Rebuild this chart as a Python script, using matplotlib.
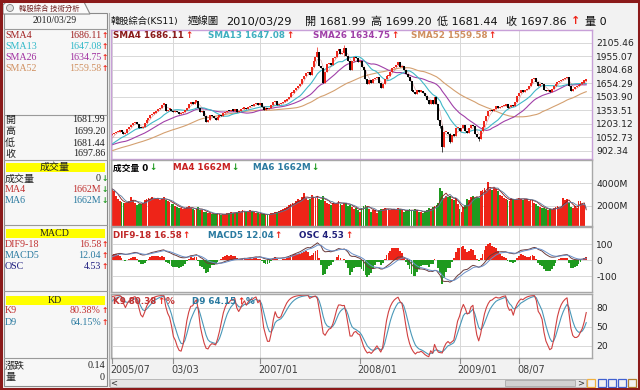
import numpy as np
import pandas as pd
import matplotlib
matplotlib.use("Agg")
import matplotlib.pyplot as plt
from matplotlib.patches import Rectangle, Circle, Polygon

W, H = 640, 390
CJK = ["DejaVu Sans", "Noto Sans CJK TC"]
SERIF = ["Liberation Serif", "Noto Sans CJK TC", "DejaVu Sans"]

# weekly closes before the first drawn week (only used to warm up the indicators)
warmup_close = [740, 745, 730, 720, 750, 780, 800, 810, 830, 840, 830, 845, 850,
                860, 850, 840, 830, 850, 870, 860, 880, 870, 880, 885, 895, 900,
                920, 910, 930, 950, 960, 990, 1000, 990, 970, 960, 950, 945, 960,
                950, 920, 910, 940, 930, 940, 950, 960, 980, 1000, 1010, 1020, 1050]

# weekly closes 2005/07/04 .. 2010/03/29
close = [1085, 1100, 1110, 1115, 1125, 1115, 1090, 1100, 1140, 1170, 1190, 1210, 1220,
         1200, 1160, 1150, 1170, 1210, 1240, 1270, 1300, 1315, 1320, 1350, 1365, 1379,
         1415, 1420, 1340, 1360, 1370, 1345, 1330, 1345, 1330, 1310, 1320, 1335, 1355,
         1380, 1420, 1440, 1420, 1450, 1460, 1380, 1330, 1340, 1290, 1220, 1250, 1295,
         1290, 1270, 1250, 1280, 1300, 1290, 1320, 1330, 1350, 1340, 1360, 1350, 1370,
         1330, 1340, 1365, 1370, 1380, 1365, 1390, 1400, 1395, 1420, 1430, 1410, 1434,
         1390, 1360, 1370, 1365, 1380, 1410, 1440, 1460, 1410, 1420, 1430, 1450, 1455,
         1480, 1500, 1540, 1550, 1580, 1600, 1620, 1650, 1700, 1740, 1770, 1780, 1743,
         1830, 1900, 1950, 2000, 1850, 1820, 1660, 1780, 1870, 1880, 1860, 1930, 1950,
         2010, 2040, 1980, 1990, 2050, 1960, 1900, 1800, 1900, 1950, 1930, 1890, 1897,
         1830, 1800, 1700, 1650, 1690, 1660, 1700, 1710, 1720, 1660, 1600, 1640, 1700,
         1730, 1740, 1780, 1820, 1830, 1860, 1888, 1830, 1850, 1800, 1760, 1720, 1680,
         1570, 1560, 1530, 1580, 1560, 1570, 1540, 1510, 1470, 1420, 1470, 1420, 1500,
         1420, 1240, 1180, 940, 1110, 1110, 1090, 1000, 1080, 1070, 1150, 1160, 1120,
         1160, 1190, 1120, 1100, 1160, 1190, 1180, 1090, 1060, 1030, 1120, 1170, 1230,
         1290, 1340, 1360, 1340, 1370, 1400, 1380, 1390, 1400, 1400, 1420, 1380, 1390,
         1410, 1400, 1440, 1510, 1550, 1580, 1560, 1580, 1590, 1620, 1660, 1700, 1710,
         1670, 1620, 1650, 1640, 1580, 1570, 1580, 1560, 1590, 1620, 1640, 1670, 1680,
         1690, 1700, 1710, 1720, 1620, 1570, 1590, 1610, 1620, 1630, 1650, 1660, 1690,
         1697.86]
first_open = 1075.0
last_open = 1681.99
# weeks with long shadows: index -> (high, low)
long_wicks = {107: (2060, 1950), 121: (2085, 1960), 171: (1250, 1150),
              172: (1190, 892), 176: (1100, 985), 191: (1070, 1015)}

volume = [3500, 3300, 2900, 2600, 2450, 2350, 2300, 2250, 2300, 2400, 2800, 2500, 2250,
          2100, 2200, 2150, 2300, 2500, 2650, 2700, 2600, 2750, 2650, 2600, 2700, 2500,
          2650, 2750, 2500, 2400, 2350, 2200, 2150, 2000, 1900, 1850, 1800, 1750, 1700,
          1900, 2000, 1800, 1700, 1650, 1750, 1900, 1600, 1650, 1500, 1450, 1400, 1350,
          1300, 1250, 1300, 1350, 1300, 1200, 1250, 1300, 1350, 1400, 1450, 1350, 1400,
          1500, 1550, 1450, 1600, 1550, 1450, 1500, 1600, 1550, 1450, 1400, 1350, 1250,
          1300, 1250, 1200, 1250, 1300, 1350, 1400, 1500, 1450, 1550, 1600, 1700, 1800,
          1900, 2100, 2200, 2300, 2200, 2400, 2600, 2500, 2800, 3100, 2700, 2500, 2600,
          3000, 2800, 2700, 2900, 2600, 2500, 2900, 2400, 2300, 2200, 2100, 2300, 2200,
          2300, 2400, 2200, 2100, 2250, 2300, 2000, 2100, 1900, 1750, 1800, 1650, 1500,
          1850, 2000, 2100, 1900, 1700, 1500, 1650, 1600, 1400, 1600, 1750, 1700, 1800,
          1750, 1700, 1650, 1700, 1750, 1650, 1800, 1700, 1650, 1500, 1550, 1650, 1700,
          1600, 1550, 1700, 1650, 1500, 1450, 1400, 1550, 1650, 1800, 1700, 1900, 2000,
          2100, 2300, 3600, 3300, 2700, 2900, 2750, 2850, 2600, 2500, 2700, 2200, 1700,
          1500, 1900, 2100, 2600, 2500, 2800, 2900, 2700, 2800, 2700, 3300, 3400, 3600,
          3300, 4100, 3500, 3400, 3600, 3500, 3300, 3000, 2900, 2700, 2600, 2500, 2450,
          2700, 2600, 2500, 2650, 2700, 2600, 2550, 2650, 2600, 2400, 2500, 2550, 2300,
          2200, 2000, 1900, 1800, 1850, 1700, 1650, 1750, 1600, 1800, 1900, 2000, 1850,
          1900, 2700, 2500, 2600, 2300, 1900, 1800, 2000, 1850, 2400, 2400, 2200, 2050,
          0]

grid_weeks = [0, 32, 77, 129, 181, 212]
date_labels = ["2005/07", "03/03", "2007/01", "2008/01", "2009/01", "08/07"]
price_ticks = [2105.46, 1955.07, 1804.68, 1654.29, 1503.90, 1353.51, 1203.12, 1052.73, 902.34]
vol_ticks = [2000, 4000]
macd_ticks = [100, 0, -100]
kd_ticks = [80, 50, 20]

# ---- indicators
n_warm = len(warmup_close)
full = pd.Series(warmup_close + close, dtype=float)
c = pd.Series(close, dtype=float)
o = c.shift(1)
o.iloc[0] = first_open
o.iloc[-1] = last_open
hi = np.maximum(o, c).values.copy()
lo = np.minimum(o, c).values.copy()
for k, (h, l) in long_wicks.items():
    hi[k], lo[k] = h, l

sma = {n: full.rolling(n, min_periods=1).mean().iloc[n_warm:].values for n in (4, 13, 26, 52)}
ema9 = full.ewm(span=9, adjust=False).mean()
ema18 = full.ewm(span=18, adjust=False).mean()
dif_full = ema9 - ema18
macd_full = dif_full.ewm(span=5, adjust=False).mean()
dif = dif_full.iloc[n_warm:].values
macd = macd_full.iloc[n_warm:].values
osc = dif - macd
osc_bar = osc / np.abs(osc).max() * 145

full_hi = np.concatenate([full.values[:n_warm], hi])
full_lo = np.concatenate([full.values[:n_warm], lo])
h9 = pd.Series(full_hi).rolling(9, min_periods=1).max().values
l9 = pd.Series(full_lo).rolling(9, min_periods=1).min().values
rsv = np.where(h9 > l9, (full.values - l9) / np.maximum(h9 - l9, 1e-9) * 100, 50)
kk, dd = [], []
k_prev, d_prev = 50.0, 50.0
for r in rsv:
    k_prev = k_prev * 2 / 3 + r / 3
    d_prev = d_prev * 2 / 3 + k_prev / 3
    kk.append(k_prev)
    dd.append(d_prev)
k9 = np.array(kk)[n_warm:]
d9 = np.array(dd)[n_warm:]

vol = pd.Series(volume, dtype=float)
vma4 = vol.rolling(4, min_periods=1).mean()
vma6 = vol.rolling(6, min_periods=1).mean()

x = np.arange(len(close))
up = (c >= o).values
RED, GREEN = "#ee2418", "#1f9a1f"

# ---- figure
fig = plt.figure(figsize=(W / 100, H / 100), dpi=100, facecolor="#f2f2f2")


def box(x0, y0, x1, y1):
    return fig.add_axes([x0 / W, 1 - y1 / H, (x1 - x0) / W, (y1 - y0) / H])


def style(ax, ticks, labels, ylim, edge="#a8a8a8"):
    ax.set_facecolor("white")
    ax.set_xlim(-0.5, 250)
    ax.set_ylim(*ylim)
    ax.set_yticks(ticks)
    ax.set_yticklabels(labels, fontsize=6.6, color="#202020")
    ax.yaxis.tick_right()
    ax.tick_params(axis="y", length=0, pad=3)
    ax.set_xticks(grid_weeks)
    ax.tick_params(axis="x", length=0, labelbottom=False)
    ax.grid(True, color="#d8d8d8", lw=0.7)
    ax.set_axisbelow(True)
    for s in ax.spines.values():
        s.set_color(edge)
        s.set_linewidth(1.0)


# price panel
ax1 = box(111, 30, 592, 159)
style(ax1, price_ticks, [f"{v:.2f}" for v in price_ticks], (810, 2247), edge="#c8a0d8")
ax1.plot(x, sma[52], color="#d4a070", lw=0.8)
ax1.plot(x, sma[26], color="#a040a8", lw=0.8)
ax1.plot(x, sma[13], color="#40b8c8", lw=0.8)
ax1.plot(x, sma[4], color="#c05050", lw=0.4, alpha=0.6)
body_lo = np.minimum(o, c).values
body_hi = np.maximum(np.maximum(o, c).values, body_lo + 14)
for m, col in ((up, RED), (~up, "black")):
    ax1.vlines(x[m], lo[m], hi[m], color=col, lw=0.5)
    ax1.vlines(x[m], body_lo[m], body_hi[m], color=col, lw=1.4)

# volume panel
ax2 = box(111, 160, 592, 226)
style(ax2, vol_ticks, [f"{v}M" for v in vol_ticks], (240, 6030))
ax2.bar(x, volume, width=0.95, color=np.where(up, RED, GREEN), lw=0)
ax2.plot(x, vma4, color="#8b1a1a", lw=0.6)
ax2.plot(x, vma6, color="#5a7a9a", lw=0.6)

# MACD panel
ax3 = box(111, 227, 592, 292)
style(ax3, macd_ticks, [str(v) for v in macd_ticks], (-198, 208))
ax3.bar(x, osc_bar, width=0.95, color=np.where(osc_bar >= 0, RED, GREEN), lw=0)
ax3.plot(x, dif, color="#6a3a3a", lw=0.7)
ax3.plot(x, macd, color="#6a90c8", lw=0.7)

# KD panel
ax4 = box(111, 294, 592, 358)
style(ax4, kd_ticks, [str(v) for v in kd_ticks], (0.7, 101.5))
ax4.plot(x, d9, color="#4a98b8", lw=0.8)
ax4.plot(x, k9, color="#d04040", lw=0.8)

# overlay in pixel coordinates
ov = fig.add_axes([0, 0, 1, 1], facecolor="none")
ov.set_xlim(0, W)
ov.set_ylim(H, 0)
ov.axis("off")
renderer = fig.canvas.get_renderer()


def seg(xp, yp, s, color, arrow=None, acolor=RED, size=6.3, weight="bold", tail=None):
    t = ov.text(xp, yp, s, color=color, fontsize=size, fontweight=weight,
                family=CJK, va="center", ha="left")
    if arrow:
        bb = t.get_window_extent(renderer)
        t2 = ov.text(bb.x1 + 1, yp, arrow, color=acolor, fontsize=size, fontweight="bold",
                     family=CJK, va="center", ha="left")
        if tail:
            bb2 = t2.get_window_extent(renderer)
            ov.text(bb2.x1 + 1, yp, tail, color=color, fontsize=size, fontweight=weight,
                    family=CJK, va="center", ha="left")


# x axis labels + tick marks
for wk, lab in zip(grid_weeks, date_labels):
    xp = 112 + wk * 1.92
    ov.plot([xp, xp], [358, 363], color="#909090", lw=0.8)
    ov.text(xp - 2, 370, lab, fontsize=6.9, color="#404040", va="center", ha="left")

# panel headers
seg(113, 35.5, "SMA4 1686.11", "#8b1a1a", "↑")
seg(208, 35.5, "SMA13 1647.08", "#40b0c0", "↑")
seg(313, 35.5, "SMA26 1634.75", "#a040a8", "↑")
seg(411, 35.5, "SMA52 1559.58", "#d09060", "↑")
seg(113, 168, "成交量 0", "black", "↓", GREEN)
seg(173, 168, "MA4 1662M", "#c82020", "↓", GREEN)
seg(253, 168, "MA6 1662M", "#2a7aa0", "↓", GREEN)
seg(113, 235, "DIF9-18 16.58", "#c02828", "↑")
seg(208, 235, "MACD5 12.04", "#2a7aa0", "↑")
seg(299, 235, "OSC 4.53", "#20207a", "↑")
seg(113, 301, "K9 80.38", "#c03030", "↑", tail="%")
seg(192, 301, "D9 64.15", "#2a7aa0", "↑", tail="%")

# title line
title_parts = [(111, "韓股綜合(KS11)", 6.7), (188, "週線圖", 7.5), (226, "2010/03/29", 8.2),
               (305, "開 1681.99", 8.0), (371, "高 1699.20", 8.0), (437, "低 1681.44", 8.0),
               (506, "收 1697.86", 8.0), (585, "量 0", 8.0)]
for xp, s, sz in title_parts:
    ov.text(xp, 21.5, s, fontsize=sz, family=CJK, color="#101010", va="center", ha="left")
ov.text(571, 21.5, "↑", fontsize=8, fontweight="bold", color=RED, va="center", ha="left")

# left info panel
ov.add_patch(Rectangle((4, 13), 103, 373, fc="#f7f7f7", ec="#8a8a8a", lw=0.8))
for yy in (29, 115, 160, 225, 291, 358):
    ov.plot([4, 107], [yy, yy], color="#9a9a9a", lw=0.8)
ov.plot([109, 109], [13, 386], color="#b0b0b0", lw=0.8)
for y0, lab in ((162.5, "成交量"), (228.5, "MACD"), (295.5, "KD")):
    ov.add_patch(Rectangle((6, y0), 99, 9.5, fc="#ffff00", ec="none"))
    ov.text(55, y0 + 4.8, lab, fontsize=7.2, family=SERIF, color="#202020", va="center", ha="center")
ov.text(55, 20.5, "2010/03/29", fontsize=7.0, family=SERIF, color="#202020", va="center", ha="center")

left_rows = [(35, "SMA4", "1686.11", "#a02020", "↑", RED),
             (46.5, "SMA13", "1647.08", "#30b8c8", "↑", RED),
             (57.5, "SMA26", "1634.75", "#a030a0", "↑", RED),
             (68.5, "SMA52", "1559.58", "#d09060", "↑", RED),
             (120, "開", "1681.99", "#202020", None, None),
             (131.5, "高", "1699.20", "#202020", None, None),
             (143, "低", "1681.44", "#202020", None, None),
             (154, "收", "1697.86", "#202020", None, None),
             (178.7, "成交量", "0", "#202020", "↓", GREEN),
             (189.7, "MA4", "1662M", "#c03030", "↓", GREEN),
             (200.3, "MA6", "1662M", "#2a7aa0", "↓", GREEN),
             (244.3, "DIF9-18", "16.58", "#c03030", "↑", RED),
             (255.7, "MACD5", "12.04", "#2a7aa0", "↑", RED),
             (266.7, "OSC", "4.53", "#202080", "↑", RED),
             (310.7, "K9", "80.38%", "#c03030", "↑", RED),
             (322.3, "D9", "64.15%", "#2a7aa0", "↑", RED),
             (366, "漲跌", "0.14", "#202020", None, None),
             (377.3, "量", "0", "#202020", None, None)]
for yy, name, val, col, arr, acol in left_rows:
    ov.text(5, yy, name, fontsize=7.2, family=SERIF, color=col, va="center", ha="left")
    xr = 101 if arr else 105
    ov.text(xr, yy, val, fontsize=7.2, family=SERIF, color=col, va="center", ha="right")
    if arr:
        ov.text(101.5, yy, arr, fontsize=5.5, fontweight="bold", color=acol, va="center", ha="left")

# tab
ov.add_patch(Polygon([(3, 14), (3, 5), (6, 2), (84, 2), (90, 14)], closed=True,
                     fc="#fafafa", ec="#8a8a8a", lw=0.8))
ov.add_patch(Circle((10, 8), 3.5, fc="#e0e0e0", ec="#808080", lw=0.6))
ov.text(19, 8.5, "韓股綜合 技術分析", fontsize=5.3, family=["Noto Sans CJK TC"],
        color="#702020", va="center", ha="left")

# scroll bar + tool icons
ov.add_patch(Rectangle((110, 379), 476, 8, fc="#e6e6e6", ec="#b0b0b0", lw=0.6))
ov.add_patch(Rectangle((505, 380), 70, 6, fc="#d2d2d2", ec="#a0a0a0", lw=0.5))
ov.text(114, 383, "<", fontsize=6, va="center", ha="center", color="#303030")
ov.text(581, 383, ">", fontsize=6, va="center", ha="center", color="#303030")
for xi, col in ((587, "#f0b040"), (598, "#4060d0"), (608, "#4060d0"), (618, "#4060d0"), (628, "#b08030")):
    ov.add_patch(Rectangle((xi, 379), 8, 8, fc="none", ec=col, lw=0.9))

# outer frame
ov.add_patch(Rectangle((1, 1), W - 2, H - 2, fill=False, ec="#8b1a1a", lw=2.2))

fig.savefig("out.png", dpi=100, facecolor=fig.get_facecolor())
